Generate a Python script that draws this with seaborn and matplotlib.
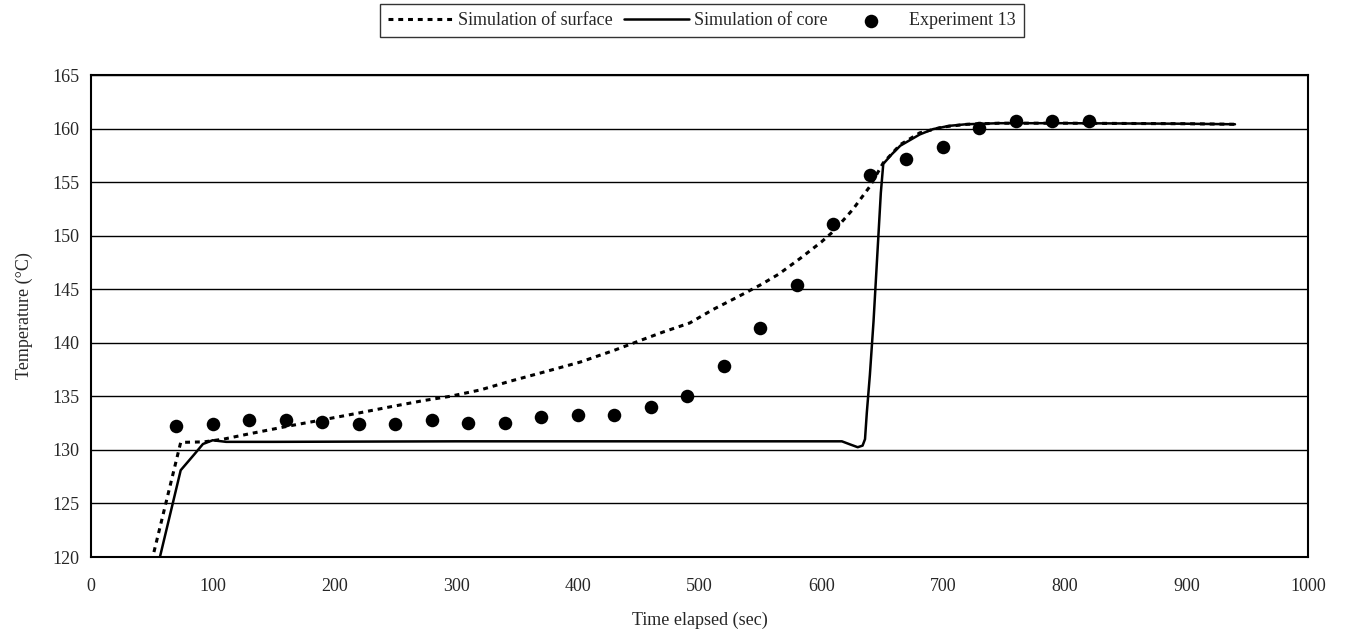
import matplotlib
matplotlib.use("Agg")
import matplotlib.pyplot as plt
import seaborn as sns
import pandas as pd

# Experiment data
exp_time = [70, 100, 130, 160, 190, 220, 250, 280, 310, 340, 370, 400, 430,
            460, 490, 520, 550, 580, 610, 640, 670, 700, 730, 760, 790, 820]
exp_temp = [132.25, 132.4, 132.75, 132.8, 132.6, 132.45, 132.4, 132.75, 132.5,
            132.5, 133.1, 133.25, 133.3, 134.0, 135.0, 137.8, 141.4, 145.4,
            151.1, 155.7, 157.2, 158.3, 160.05, 160.7, 160.7, 160.7]

# Simulation of surface
surf_time = [46, 73.7, 93, 108.7, 130, 163.5, 190, 218, 245, 273, 295, 320, 344,
             370, 402, 430, 451, 470, 492, 511, 530, 550, 565, 583, 600, 610,
             626, 640, 651, 665, 681, 700, 720, 746, 800, 900, 940]
surf_temp = [117.8, 130.7, 130.75, 131.0, 131.5, 132.25, 132.8, 133.4, 134.0,
             134.6, 135.0, 135.6, 136.4, 137.2, 138.2, 139.3, 140.2, 141.0,
             141.85, 143.1, 144.2, 145.4, 146.4, 147.9, 149.4, 150.4, 152.45,
             154.6, 156.8, 158.5, 159.6, 160.15, 160.4, 160.5, 160.5, 160.45, 160.4]

# Simulation of core
core_time = [52, 73.7, 85, 92, 100, 111, 150, 300, 450, 617, 624, 630, 634, 636,
             637.5, 640, 643, 646, 649, 651, 658, 665, 681, 692, 705, 719, 746,
             800, 900, 940]
core_temp = [117.8, 128.1, 129.6, 130.55, 130.9, 130.75, 130.75, 130.8, 130.8,
             130.8, 130.5, 130.25, 130.4, 131.0, 133.5, 137.0, 142.0, 148.0,
             154.0, 156.7, 157.6, 158.4, 159.45, 159.95, 160.25, 160.4, 160.5,
             160.5, 160.45, 160.4]

x_ticks = list(range(0, 1001, 100))
y_ticks = list(range(120, 166, 5))

sns.set_style("white")
plt.rcParams['font.family'] = ['Liberation Serif', 'DejaVu Serif']
FS = 13

fig = plt.figure(figsize=(13.46, 6.4), dpi=100)
ax = fig.add_axes([91/1346, (640-557)/640, (1308-91)/1346, (557-75)/640])

for t in y_ticks:
    ax.axhline(t, color='black', lw=1.0, zorder=0)

surf_df = pd.DataFrame({"t": surf_time, "T": surf_temp})
core_df = pd.DataFrame({"t": core_time, "T": core_temp})
exp_df = pd.DataFrame({"t": exp_time, "T": exp_temp})

sns.lineplot(data=surf_df, x="t", y="T", sort=False, ax=ax, color='black',
             lw=2.2, linestyle=(0, (1.6, 1.6)), label="Simulation of surface", zorder=3)
sns.lineplot(data=core_df, x="t", y="T", sort=False, ax=ax, color='black',
             lw=1.8, label="Simulation of core", zorder=4)
sns.scatterplot(data=exp_df, x="t", y="T", ax=ax, color='black', s=95,
                edgecolor='black', linewidth=0, label="Experiment 13", zorder=5)

ax.set_xlim(0, 1000)
ax.set_ylim(120, 165)
ax.set_xticks(x_ticks)
ax.set_yticks(y_ticks)
ax.tick_params(axis='y', direction='inout', length=9, width=1.2, labelsize=FS, pad=4)
ax.tick_params(axis='x', direction='out', length=6, width=1.2, labelsize=FS, pad=9)
for s in ax.spines.values():
    s.set_color('black')
    s.set_linewidth(1.5)

ax.set_xlabel("Time elapsed (sec)", fontsize=FS, labelpad=12)
ax.set_ylabel("Temperature (°C)", fontsize=FS, labelpad=14)

leg = ax.legend(loc='lower center', bbox_to_anchor=(0.502, 1.078), ncol=3,
                frameon=True, fancybox=False, fontsize=FS, handlelength=3.6,
                columnspacing=0.6, handletextpad=0.3, borderpad=0.45,
                borderaxespad=0, markerscale=1.0)
leg.get_frame().set_edgecolor('black')
leg.get_frame().set_linewidth(1.0)

fig.savefig("out.png", dpi=100)
